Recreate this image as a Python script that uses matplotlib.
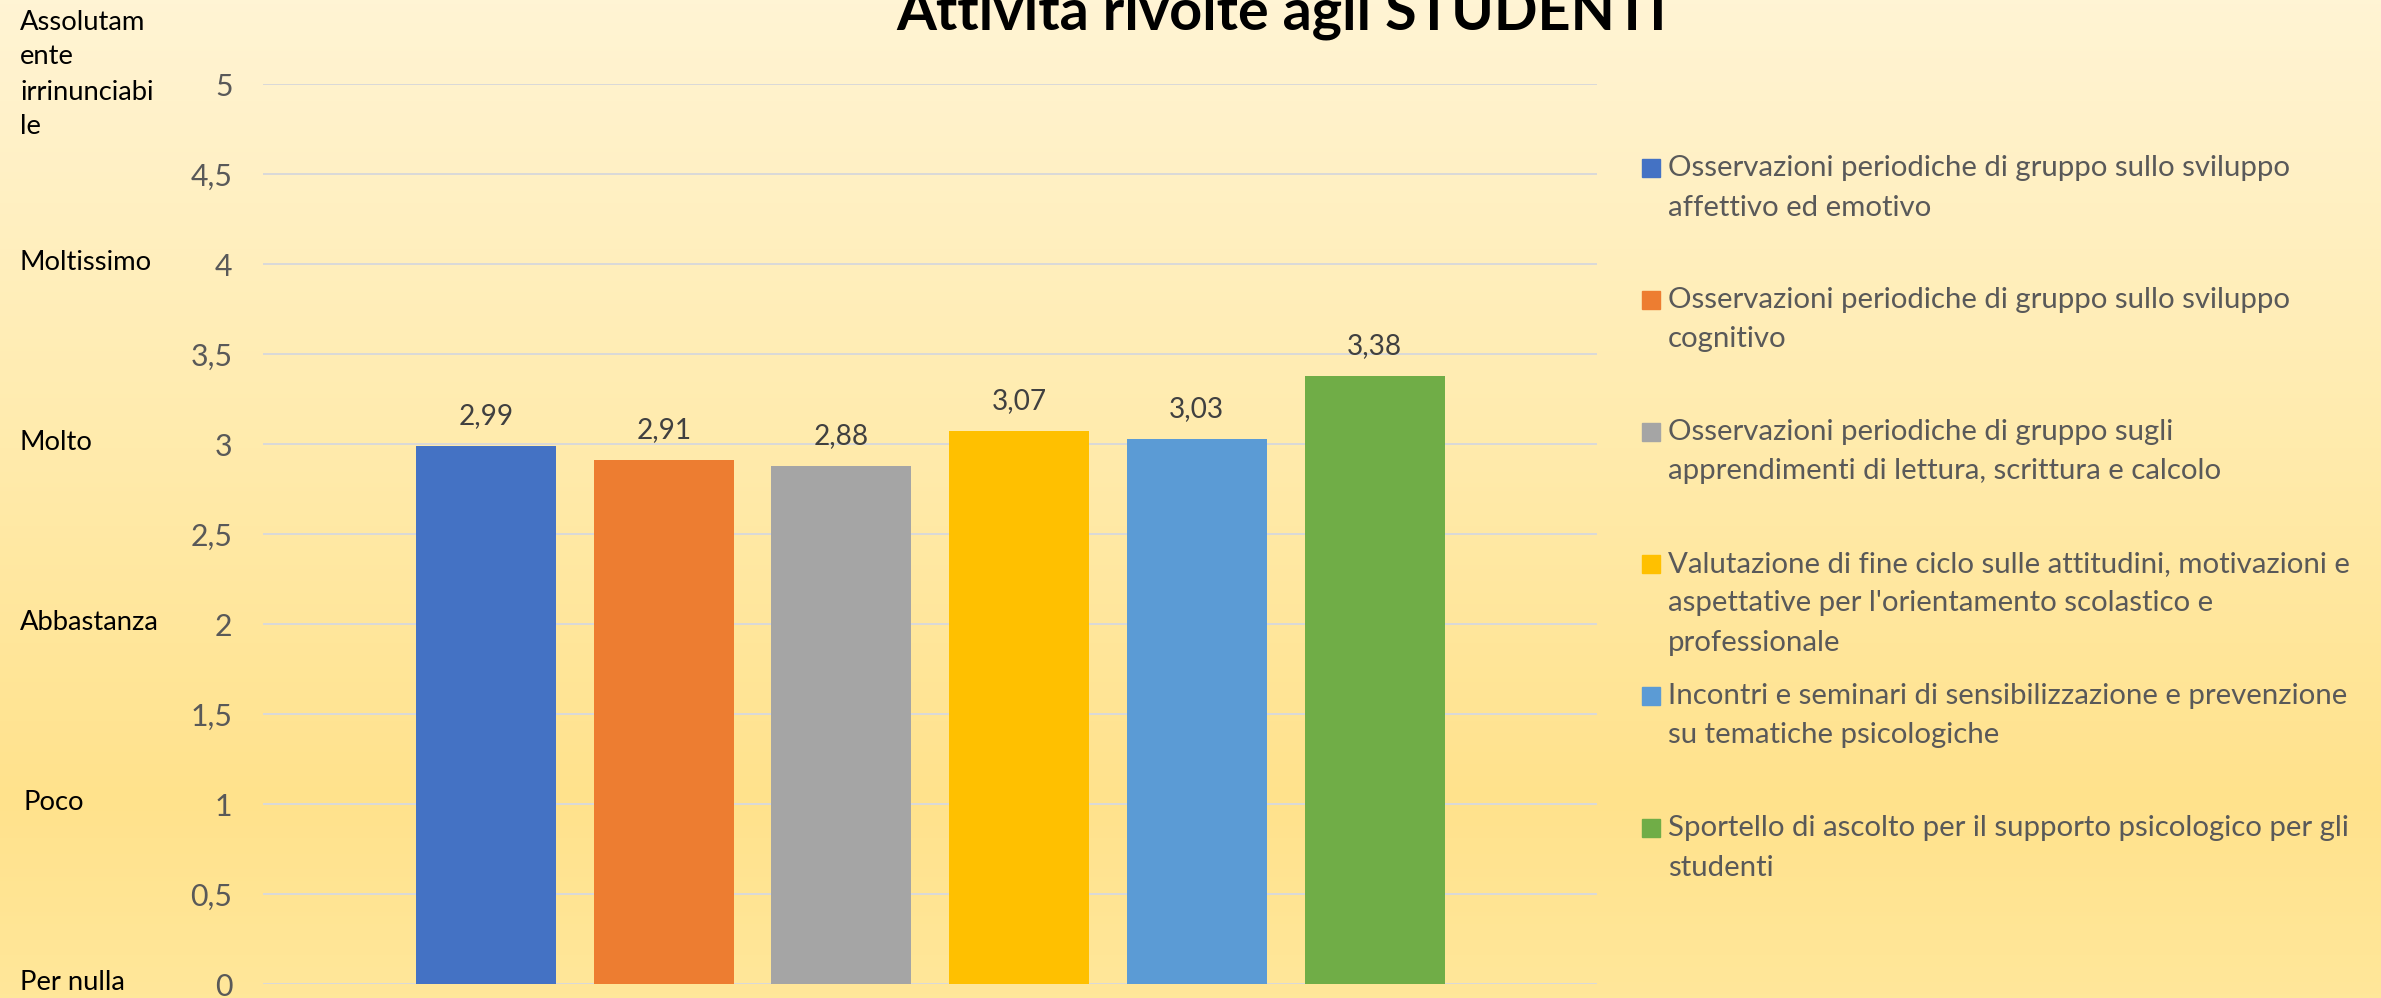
import numpy as np
import matplotlib
matplotlib.use("Agg")
import matplotlib.pyplot as plt
import matplotlib.transforms as mtransforms
from matplotlib.patches import Rectangle
from matplotlib.colors import LinearSegmentedColormap

# ---------------- data ----------------
title = "Attività rivolte agli STUDENTI"
categories = [
    "Osservazioni periodiche di gruppo sullo sviluppo\naffettivo ed emotivo",
    "Osservazioni periodiche di gruppo sullo sviluppo\ncognitivo",
    "Osservazioni periodiche di gruppo sugli\napprendimenti di lettura, scrittura e calcolo",
    "Valutazione di fine ciclo sulle attitudini, motivazioni e\naspettative per l'orientamento scolastico e\nprofessionale",
    "Incontri e seminari di sensibilizzazione e prevenzione\nsu tematiche psicologiche",
    "Sportello di ascolto per il supporto psicologico per gli\nstudenti",
]
values = [2.99, 2.91, 2.88, 3.07, 3.03, 3.38]
colors = ["#4472C4", "#ED7D31", "#A5A5A5", "#FFC000", "#5B9BD5", "#70AD47"]
yticks = [0, 0.5, 1, 1.5, 2, 2.5, 3, 3.5, 4, 4.5, 5]
scale_levels = [0, 1, 2, 3, 4]
scale_labels = ["Per nulla", "Poco", "Abbastanza", "Molto", "Moltissimo"]
top_label_lines = ["Assolutam", "ente", "irrinunciabi", "le"]

# ---------------- figure ----------------
W, H = 2381, 998
DPI = 100
plt.rcParams["font.family"] = ["Lato", "DejaVu Sans"]
fig = plt.figure(figsize=(W / DPI, H / DPI), dpi=DPI)

def fx(x):
    return x / W

def fy(y):
    return 1 - y / H

# background gradient
bg = fig.add_axes([0, 0, 1, 1], zorder=-10)
bg.axis("off")
cmap = LinearSegmentedColormap.from_list(
    "bg",
    [(0.0, (255/255, 244/255, 212/255)),
     (0.45, (255/255, 235/255, 172/255)),
     (0.8, (255/255, 226/255, 140/255)),
     (1.0, (255/255, 231/255, 154/255))])
grad = np.linspace(0, 1, 256).reshape(-1, 1)
bg.imshow(grad, aspect="auto", cmap=cmap, extent=[0, 1, 0, 1], origin="upper")
bg.set_xlim(0, 1)
bg.set_ylim(0, 1)

renderer = fig.canvas.get_renderer()

def fit(text, target, **kw):
    t = fig.text(0, 0, text, fontsize=20, **kw)
    w = t.get_window_extent(renderer).width
    t.remove()
    return 20 * target / w

fs_legend = fit("Osservazioni periodiche di gruppo sullo sviluppo", 624)
fs_left = fit("Moltissimo", 132)
fs_data = fit("2,99", 55)
fs_tick = fit("4,5", 42)
fs_title = fit(title, 770, fontweight="bold")

# main axes
left, right, top, bottom = 263, 1597, 84, 984
ax = fig.add_axes([fx(left), fy(bottom), fx(right) - fx(left), (bottom - top) / H])
ax.patch.set_alpha(0)
x = np.arange(len(values))
ax.bar(x, values, width=0.788, color=colors, zorder=3)
ax.set_xlim(-1.255, 6.252)
ax.set_ylim(0, 5)
ax.set_yticks(yticks)
ax.set_yticklabels([f"{v:g}".replace(".", ",") for v in yticks],
                   fontsize=fs_tick, color="#595959")
ax.tick_params(axis="y", length=0, pad=22)
ax.set_xticks([])
for s in ax.spines.values():
    s.set_visible(False)
ax.yaxis.grid(True, color="#D9D9D9", linewidth=1.4, zorder=0)
ax.set_axisbelow(True)

for xi, v in zip(x, values):
    ax.annotate(f"{v:.2f}".replace(".", ","), xy=(xi, v), xytext=(0, 21.5),
                textcoords="offset points", ha="center", va="center",
                fontsize=fs_data, color="#404040")

# left scale labels
trans = mtransforms.blended_transform_factory(fig.transFigure, ax.transData)
for lvl, lab in zip(scale_levels, scale_labels):
    xoff = 23 if lab == "Poco" else 20
    t = fig.text(fx(xoff), lvl, lab, ha="left", va="center",
                 fontsize=fs_left, color="black")
    t.set_transform(trans + mtransforms.ScaledTranslation(0, 1 / DPI, fig.dpi_scale_trans))
for i, line in enumerate(top_label_lines):
    fig.text(fx(20), fy(22 + i * 35), line, ha="left", va="center",
             fontsize=fs_left, color="black")

# title
fig.text(fx(1281), fy(30), title, ha="center", va="baseline",
         fontsize=fs_title, fontweight="bold", color="black")

# legend
leg_y0 = 168
leg_dy = 132
line_dy = 39.5
for i, (cat, col) in enumerate(zip(categories, colors)):
    yc = leg_y0 + i * leg_dy
    fig.patches.append(Rectangle((fx(1642), fy(yc + 9)), 18 / W, 18 / H,
                                 transform=fig.transFigure, color=col,
                                 figure=fig))
    for j, line in enumerate(cat.split("\n")):
        fig.text(fx(1668), fy(yc + j * line_dy), line, ha="left", va="center",
                 fontsize=fs_legend, color="#595959")

fig.savefig("out.png", dpi=DPI)
